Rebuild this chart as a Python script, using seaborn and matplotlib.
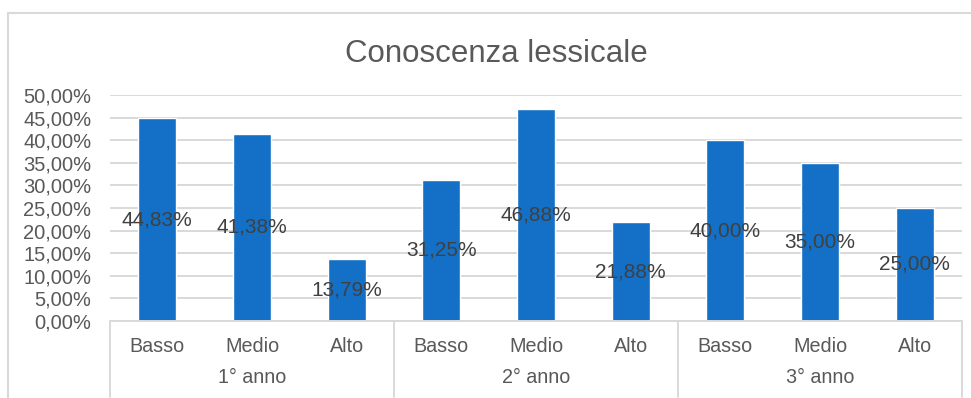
import matplotlib
matplotlib.use("Agg")
import matplotlib.pyplot as plt
from matplotlib.lines import Line2D
import matplotlib.transforms as mtransforms
import seaborn as sns
import pandas as pd

# ---- data ----
title = "Conoscenza lessicale"
groups = ["1° anno", "2° anno", "3° anno"]
levels = ["Basso", "Medio", "Alto"]
values = [44.83, 41.38, 13.79, 31.25, 46.88, 21.88, 40.00, 35.00, 25.00]
y_ticks = [0, 5, 10, 15, 20, 25, 30, 35, 40, 45, 50]

rows = []
for gi, g in enumerate(groups):
    for li, lv in enumerate(levels):
        rows.append({"slot": f"{g}|{lv}", "group": g, "level": lv,
                     "value": values[gi * len(levels) + li]})
df = pd.DataFrame(rows)

def it_pct(v):
    return f"{v:.2f}".replace(".", ",") + "%"

sns.set_theme(style="white")
plt.rcParams["font.family"] = ["Liberation Sans", "DejaVu Sans"]

TXT = "#595959"
GRID = "#D9D9D9"
BAR = "#1370C6"

W, H = 971, 398
fig = plt.figure(figsize=(W / 100, H / 100), dpi=100)
ax = fig.add_axes([110 / W, 1 - 321 / H, (962 - 110) / W, (321 - 95) / H])

sns.barplot(data=df, x="slot", y="value", order=df["slot"].tolist(),
            color=BAR, saturation=1, width=0.4, ax=ax, errorbar=None)

ax.set_ylim(0, 50)
ax.set_xlim(-0.5, len(values) - 0.5)
ax.set_yticks(y_ticks)
ax.set_yticklabels([it_pct(t) for t in y_ticks], color=TXT, fontsize=14.5)
ax.tick_params(axis="y", length=0, pad=13.5)
ax.set_xticks([])
ax.set_xlabel("")
ax.set_ylabel("")
ax.yaxis.grid(True, color=GRID, linewidth=1.4)
ax.set_axisbelow(True)
for s in ax.spines.values():
    s.set_visible(False)

# data labels, centred in bars
for cont in ax.containers:
    ax.bar_label(cont, labels=[it_pct(v) for v in df["value"]],
                 label_type="center", color="#404040", fontsize=15)

# bottom axis line
trans = mtransforms.blended_transform_factory(ax.transData, ax.transAxes)
ax.add_line(Line2D([-0.5, len(values) - 0.5], [0, 0], transform=trans,
                   color=GRID, linewidth=1.4, clip_on=False))

# category labels (two levels)
ypx = lambda py: (321 - py) / (321 - 95)
for i, r in df.iterrows():
    ax.text(i, ypx(352), r["level"], transform=trans, ha="center",
            va="baseline", color=TXT, fontsize=14.2)
for gi, g in enumerate(groups):
    cx = gi * len(levels) + (len(levels) - 1) / 2
    ax.text(cx, ypx(383), g, transform=trans, ha="center",
            va="baseline", color=TXT, fontsize=14.2)
for gi in range(len(groups) + 1):
    xs = gi * len(levels) - 0.5
    ax.add_line(Line2D([xs, xs], [0, ypx(397)], transform=trans,
                       color=GRID, linewidth=1.4, clip_on=False))

# title
fig.text(496.5 / W, 1 - 62 / H, title, ha="center", va="baseline",
         color=TXT, fontsize=22.5)

# chart frame (cut by the screenshot on right and bottom)
fig.add_artist(Line2D([7.5 / W, 7.5 / W], [0, 1 - 13 / H],
                      transform=fig.transFigure, color=GRID, linewidth=1.5))
fig.add_artist(Line2D([7.5 / W, 1], [1 - 13 / H, 1 - 13 / H],
                      transform=fig.transFigure, color=GRID, linewidth=1.5))

fig.savefig("out.png", dpi=100, facecolor="white")
